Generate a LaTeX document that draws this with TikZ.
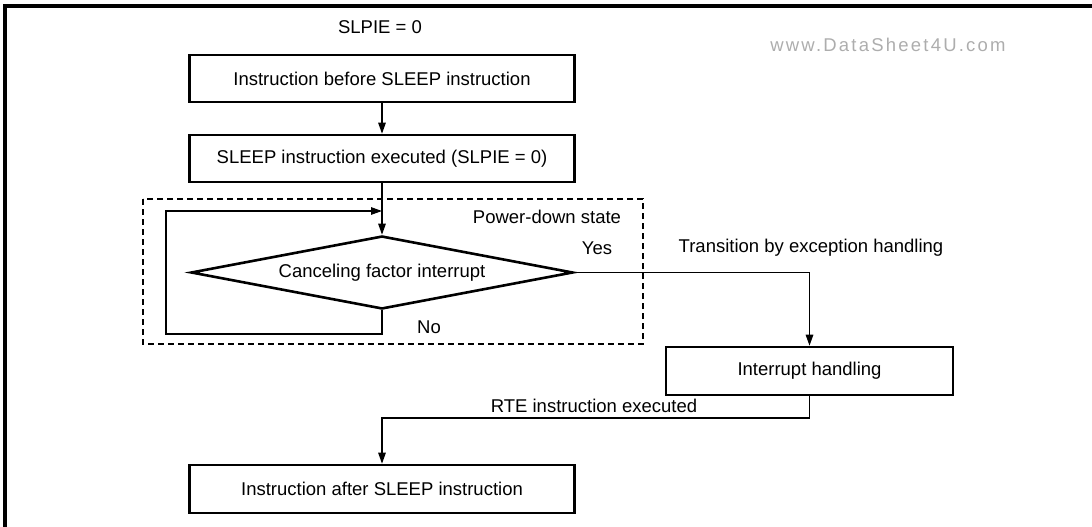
\documentclass[tikz,border=0pt]{standalone}
\usepackage{fontspec}
\setmainfont{Liberation Sans}
\usetikzlibrary{shapes.geometric,arrows.meta}
\tikzset{
  box/.style={draw, line width=2.6pt, minimum width=385pt, minimum height=47pt, inner sep=0pt, font=\fontsize{18.5}{21}\selectfont},
  lbl/.style={font=\fontsize{18.5}{21}\selectfont, inner sep=0pt},
  conn/.style={line width=1.3pt, -{Triangle[length=11pt,width=7.5pt]}},
}
\begin{document}
\begin{tikzpicture}[x=1pt,y=-1pt]
\useasboundingbox (0,0) rectangle (1092,527);
% frame
\draw[line width=4pt] (5,527) -- (5,6) -- (1092,6);
% watermark
\node[font=\fontsize{18.5}{20}\selectfont\addfontfeature{LetterSpace=12}, text=black!32, inner sep=0pt] (wm) at (888,45) {www.DataSheet4U.com};
% top label
\node[lbl] (slpie) at (380,27) {SLPIE = 0};
% boxes
\node[box] (b1) at (382,78.5) {Instruction before SLEEP instruction};
\node[box] (b2) at (382,158.5) {SLEEP instruction executed (SLPIE = 0)};
% power-down dashed region
\draw[line width=1.2pt, dash pattern=on 6pt off 4pt] (143,199) rectangle (643,344);
\node[lbl] (pds) at (547,217) {Power-down state};
% decision
\node[draw, diamond, aspect=5.2, line width=2.6pt, minimum width=382pt, minimum height=73pt, inner sep=0pt, font=\fontsize{18.5}{21}\selectfont] (dec) at (382,272.5) {Canceling factor interrupt};
\node[lbl] (yes) at (597,248) {Yes};
\node[lbl] (no) at (429,327) {No};
% interrupt handling
\node[box, minimum width=287pt, minimum height=48pt] (ih) at (809.5,371) {Interrupt handling};
\node[lbl] (trans) at (811,248) {Transition by exception handling};
% bottom box
\node[box, minimum height=48pt] (b3) at (382,489) {Instruction after SLEEP instruction};
\node[lbl] (rte) at (594,406) {RTE instruction executed};
% connectors
\draw[conn] (b1) -- (b2);
\draw[conn] (b2) -- (dec.north);
\coordinate (lj) at (382,211);
\draw[conn] (dec.south) -- (382,334) -- (166,334) -- (166,211) -- (lj);
\draw[conn] (dec.east) -| (ih.north);
\draw[conn] (ih.south) |- (382,418) -- (b3.north);
\end{tikzpicture}
\end{document}
